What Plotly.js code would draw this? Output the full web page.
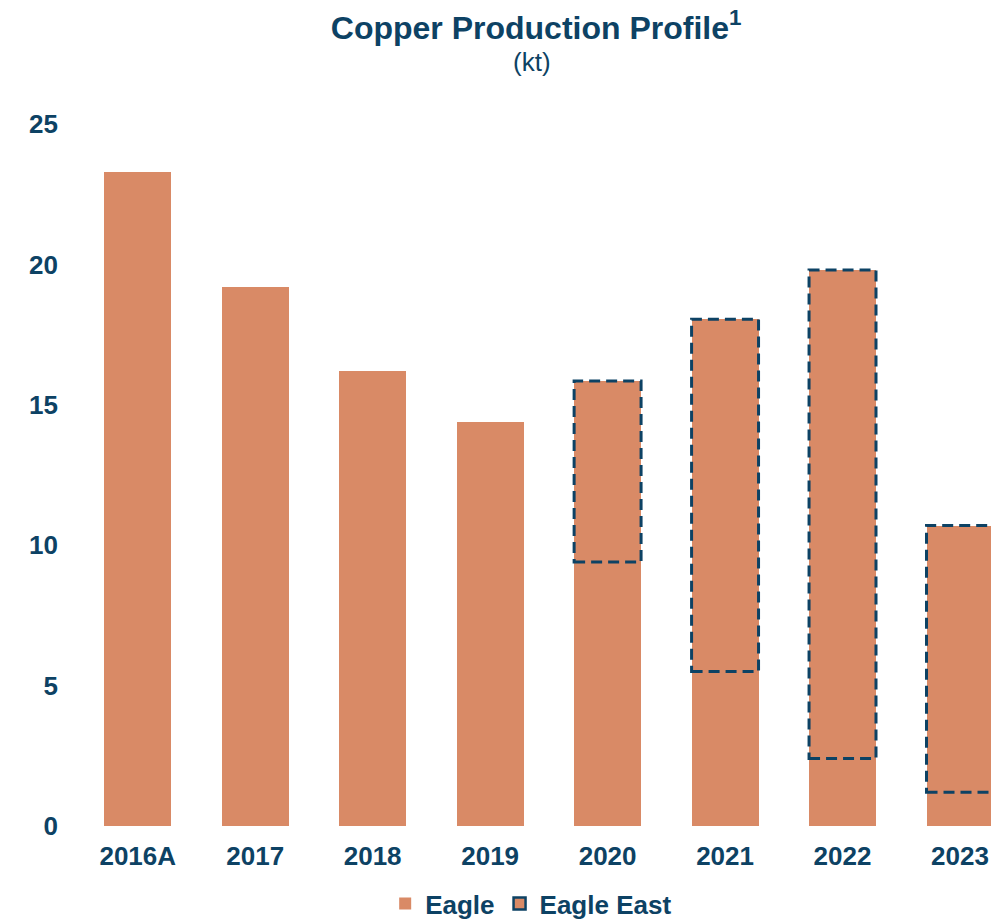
<!DOCTYPE html>
<html>
<head>
<meta charset="utf-8">
<script src="https://cdn.plot.ly/plotly-3.0.1.min.js"></script>
<style>
  body { margin: 0; background: #fff; }
  #plot { width: 991px; height: 921px; }
</style>
</head>
<body>
<div id="plot"></div>
<script>
// years and production (kt)
var years = ["2016A", "2017", "2018", "2019", "2020", "2021", "2022", "2023"];
var eagle = [23.3, 19.2, 16.2, 14.4, 9.4, 5.5, 2.4, 1.2];
var eagleEast = [null, null, null, null, 6.45, 12.55, 17.4, 9.5];

var orange = "#d98a66";
var navy = "#0d4264";
var barWidth = 0.57;

// legend square for Eagle East gets a navy border (first point is blank)
var lineColors = years.map(function (d, i) { return i === 0 ? navy : orange; });
var lineWidths = years.map(function (d, i) { return i === 0 ? 2.5 : 0; });

var trace1 = {
    x: years,
    y: eagle,
    name: "Eagle",
    type: "bar",
    width: barWidth,
    marker: {color: orange, line: {width: 0}}
};
var trace2 = {
    x: years,
    y: eagleEast,
    name: "Eagle East",
    type: "bar",
    width: barWidth,
    marker: {color: orange, line: {color: lineColors, width: lineWidths}}
};
var data = [trace1, trace2];

// dashed outline round the Eagle East part of each bar
var shapes = [];
years.forEach(function (yr, i) {
    if (eagleEast[i] == null) return;
    shapes.push({
        type: "rect", xref: "x", yref: "y", layer: "above",
        x0: i - barWidth / 2, x1: i + barWidth / 2,
        y0: eagle[i], y1: eagle[i] + eagleEast[i],
        line: {color: navy, width: 3, dash: "11px,6px"}
    });
});

var fontFam = "Arial, 'Liberation Sans', sans-serif";

var layOut = {
    width: 991,
    height: 921,
    paper_bgcolor: "#fff",
    plot_bgcolor: "#fff",
    margin: {l: 79, r: 0, t: 124, b: 95},
    barmode: "stack",
    showlegend: true,
    title: {
        text: "Copper Production Profile<sup>1</sup>",
        font: {family: fontFam, size: 32, color: navy, weight: "bold"},
        xref: "container", x: 0.541, xanchor: "center",
        yref: "container", y: 0.970, yanchor: "middle"
    },
    annotations: [{
        text: "(kt)", showarrow: false,
        xref: "paper", x: 0.497, xanchor: "center",
        yref: "paper", y: 1.088, yanchor: "middle",
        font: {family: fontFam, size: 26, color: navy}
    }],
    xaxis: {
        type: "category",
        range: [-0.5, 7.264],
        showgrid: false, zeroline: false, showline: false,
        ticks: "",
        ticklabelstandoff: 12,
        tickfont: {family: fontFam, size: 26, color: navy, weight: "bold"}
    },
    yaxis: {
        range: [0, 25],
        dtick: 5,
        showgrid: false, zeroline: false, showline: false,
        ticks: "",
        ticklabelstandoff: 20,
        tickfont: {family: fontFam, size: 26, color: navy, weight: "bold"}
    },
    legend: {
        orientation: "h",
        xref: "container", x: 0.536, xanchor: "center",
        yref: "container", y: 0.019, yanchor: "middle",
        font: {family: fontFam, size: 26, color: navy, weight: "bold"},
        traceorder: "normal",
        itemwidth: 30
    },
    shapes: shapes
};

Plotly.newPlot("plot", data, layOut, {displayModeBar: false});
</script>
</body>
</html>
